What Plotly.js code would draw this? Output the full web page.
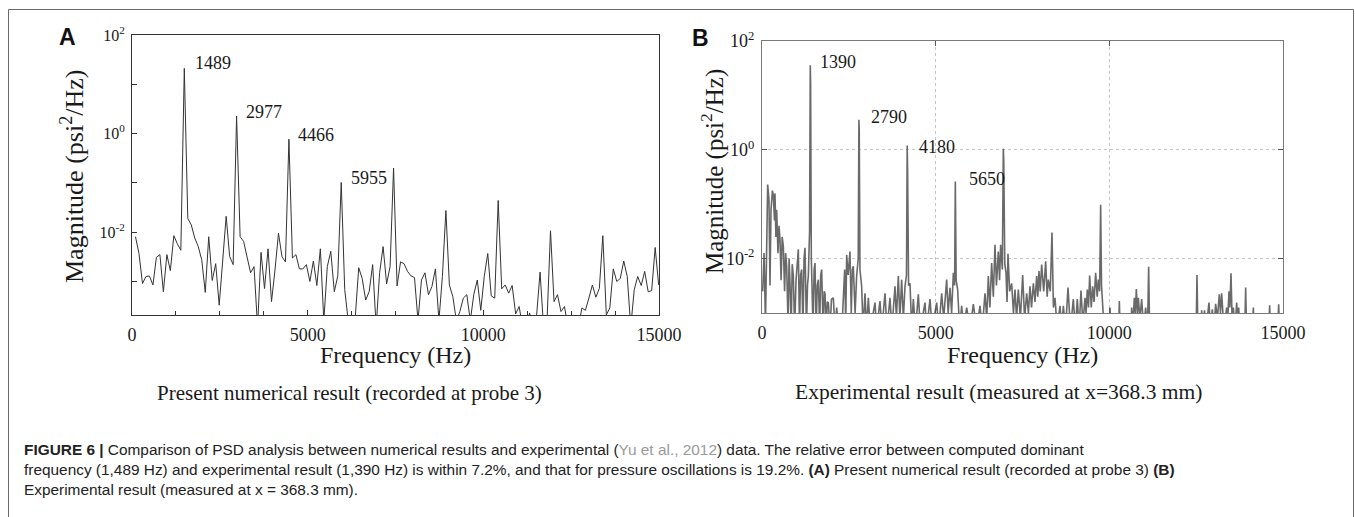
<!DOCTYPE html>
<html><head><meta charset="utf-8">
<script src="https://cdn.plot.ly/plotly-3.0.1.min.js"></script>
<style>html,body{margin:0;padding:0;background:#fff;overflow:hidden}#chart{width:1355px;height:517px}</style>
</head><body><div id="chart"></div>
<script>
// ---------- Panel A: numerical PSD (probe 3) ----------
const freqA = [99,199,298,397,496,596,695,794,893,993,1092,1191,1291,1390,1489,1588,1688,1787,1886,1985,
2085,2184,2283,2382,2482,2581,2680,2780,2879,2977,3077,3177,3276,3375,3474,3574,3673,3772,3872,3971,
4070,4169,4269,4368,4466,4566,4666,4765,4864,4964,5063,5162,5261,5361,5460,5559,5658,5758,5857,5955,
6055,6155,6254,6353,6453,6552,6651,6750,6850,6949,7048,7147,7247,7346,7445,7545,7644,7743,7842,7942,
8041,8140,8239,8339,8438,8537,8636,8736,8835,8934,9034,9133,9232,9331,9431,9530,9629,9728,9828,9927,
10026,10126,10225,10324,10423,10523,10622,10721,10820,10920,11019,11118,11218,11317,11416,11515,11615,11714,11813,11912,
12012,12111,12210,12309,12409,12508,12607,12707,12806,12905,13004,13104,13203,13302,13401,13501,13600,13699,13798,13898,
13997,14096,14196,14295,14394,14493,14593,14692,14791,14891,14990];
const magA = [8.1e-3,3.7e-3,9.1e-4,1.26e-3,1.29e-3,8.5e-4,3.1e-3,3.5e-3,6.2e-4,3.5e-3,1.66e-3,8.5e-3,5.8e-3,4.3e-3,21,1.9e-2,1.4e-2,7.6e-3,5.1e-3,2.75e-3,
6.0e-4,8.1e-3,1.05e-3,2.3e-3,3.3e-4,2.75e-3,2.1e-2,3.2e-3,2.2e-3,2.27,8.1e-3,6.5e-3,3.0e-3,1.5e-3,2.0e-3,1.2e-4,3.9e-3,7.2e-4,4.6e-3,3.9e-4,
1.7e-3,9.5e-3,3.2e-3,2.5e-3,0.77,3.0e-3,3.5e-3,1.8e-3,1.8e-3,2.2e-3,1.0e-3,2.6e-3,8.3e-4,4.6e-3,1.6e-4,2.0e-3,4.1e-3,6.2e-4,1.3e-3,0.102,
6.8e-4,1.6e-4,1.2e-4,1.8e-4,1.9e-3,1.15e-3,4.2e-4,6.2e-4,2.2e-3,1.2e-4,1.5e-3,5.1e-3,8.9e-4,2.0e-3,0.2,8.1e-4,2.5e-3,2.3e-3,1.6e-3,1.3e-3,
1.2e-3,1.6e-4,1.07e-3,1.5e-3,5.4e-4,7.9e-4,1.8e-3,1.6e-4,1.26e-3,2.75e-2,8.5e-4,4.9e-4,1.6e-4,2.45e-4,4.6e-4,5.4e-4,1.6e-4,5.4e-4,1.07e-3,2.6e-4,
1.26e-3,3.7e-3,5.1e-4,4.6e-4,4.4e-2,7.1e-4,8.5e-4,5.8e-4,8.3e-4,2.2e-4,3.1e-4,1.2e-4,1.2e-4,2.3e-4,1.2e-4,2.0e-4,1.55e-3,1.2e-4,1.6e-4,1.07e-2,
3.9e-4,5.4e-4,2.45e-4,3.1e-4,1.2e-4,2.0e-4,1.2e-4,1.2e-4,2.9e-4,2.6e-4,4.6e-4,8.5e-4,4.8e-4,7.2e-4,8.5e-3,2.1e-4,2.9e-4,1.8e-3,1.0e-3,1.15e-3,
2.6e-3,1.26e-3,1.2e-4,6.8e-4,1.26e-3,8.3e-4,1.6e-3,6.2e-4,6.5e-4,4.9e-3,8.5e-4];
const peakLabelsA = ['1489','2977','4466','5955'];

// ---------- Panel B: experimental PSD (x = 368.3 mm) ----------
const freqB = [20,60,100,140,163,200,230,260,300,326,360,374,400,422,460,490,518,550,580,614,
650,680,710,750,780,806,840,870,902,940,980,1046,1080,1110,1142,1180,1210,1238,1280,1310,
1334,1370,1390,1400,1420,1430,1470,1500,1526,1560,1590,1622,1660,1690,1718,1760,1790,1814,1850,1880,
1910,1960,2000,2054,2100,2150,2200,2300,2342,2380,2410,2438,2480,2533,2570,2600,2629,2680,2725,2770,
2790,2800,2820,2869,2910,2965,3010,3061,3120,3253,3300,3397,3450,3541,3600,3685,3740,3829,3870,3925,
3970,4021,4070,4117,4160,4180,4192,4220,4261,4310,4357,4420,4501,4560,4693,4740,4837,4900,5029,5090,
5173,5230,5317,5360,5413,5460,5509,5545,5566,5590,5633,5690,5749,5800,5893,5990,6084,6180,6276,6340,
6420,6470,6516,6560,6612,6660,6708,6750,6804,6840,6871,6920,6948,6960,6990,7025,7055,7082,7130,7188,
7240,7284,7330,7380,7440,7505,7560,7620,7670,7716,7760,7812,7860,7908,7940,7975,8010,8052,8110,8167,
8210,8244,8300,8349,8390,8435,8500,8580,8630,8676,8740,8810,8880,8963,9020,9078,9130,9184,9240,9299,
9330,9366,9400,9434,9480,9520,9560,9606,9650,9683,9720,9750,9775,9798,9850,10000,10019,10040,10270,10288,
10310,10620,10643,10680,10720,10750,10777,10810,10835,10880,10931,10990,11046,11100,11132,11160,12500,12524,12550,12640,
12658,12700,12740,12780,12870,12910,12965,13010,13061,13110,13167,13200,13234,13300,13378,13410,13445,13470,13503,13530,
13570,13620,13666,13700,13724,13760,13900,13925,13950,14120,14146,14170,14590,14616,14640,14850,14875,14900,15000];
const magB = [2.5e-3,1.26e-2,6.3e-4,6.3e-2,0.229,0.126,3.2e-3,7.9e-2,0.178,0.148,5.0e-2,0.158,2.5e-2,7.9e-2,1.26e-2,4.0e-2,2.24e-2,4.0e-3,2.5e-2,1.7e-2,
2.5e-3,1.26e-2,7.2e-3,6.3e-4,1.0e-2,3.5e-3,5e-4,7.9e-3,4.8e-3,5e-4,4.0e-3,1.48e-2,5e-4,5.0e-3,6.3e-3,5e-4,1.0e-2,1.58e-2,5e-4,3.2e-3,
4.8e-3,3.2e-2,36,15.5,1.0e-2,2.7e-3,5e-4,6.3e-3,8.3e-3,5e-4,3.2e-3,4.1e-3,5e-4,5.0e-3,6.3e-3,5e-4,2.5e-3,2.3e-3,5e-4,1.6e-3,
1.55e-3,5e-4,1.8e-3,1.9e-3,5e-4,1.26e-3,5e-4,5e-4,2.7e-3,6.3e-3,6.3e-4,1.17e-2,5.0e-3,1.35e-2,1.0e-3,6.3e-3,7.2e-3,1.0e-3,4.8e-3,1.0e-2,
3.55,2.2,6.3e-3,3.1e-3,5e-4,2.3e-3,5e-4,1.9e-3,5e-4,1.55e-3,5e-4,1.66e-3,5e-4,2.3e-3,5e-4,1.9e-3,5e-4,3.1e-3,7.9e-4,4.8e-3,
7.9e-4,4.1e-3,7.9e-4,3.1e-3,5.0e-3,1.2,0.43,3.2e-3,3.5e-3,5e-4,1.8e-3,5e-4,2.2e-3,5e-4,1.55e-3,5e-4,1.8e-3,5e-4,1.55e-3,5e-4,
2.3e-3,7.9e-4,4.1e-3,1.0e-3,2.9e-3,1.0e-3,5.5e-3,3.2e-3,0.26,4.0e-3,2.7e-3,5e-4,1.35e-3,5e-4,1.26e-3,5e-4,1.45e-3,5e-4,1.35e-3,5e-4,
2.3e-3,7.9e-4,4.8e-3,1.26e-3,8.3e-3,2.0e-3,1.8e-2,3.2e-3,1.35e-2,4.0e-3,1.8e-2,6.3e-3,1.05,0.63,7.9e-3,5.5e-3,1.6e-3,1.23e-2,2.5e-3,3.5e-3,
1.0e-3,2.7e-3,7.9e-4,2.7e-3,7.9e-4,5.0e-3,7.9e-4,2.3e-3,1.0e-3,3.1e-3,1.26e-3,3.5e-3,1.6e-3,4.8e-3,2.0e-3,5.9e-3,2.5e-3,7.8e-3,2.5e-3,8.9e-3,
2.0e-3,4.1e-3,2.5e-3,3.0e-2,1.26e-3,1.9e-3,5e-4,1.35e-3,5e-4,1.35e-3,5e-4,2.95e-3,5e-4,1.8e-3,5e-4,1.8e-3,5e-4,2.6e-3,6.3e-4,1.9e-3,
1.0e-3,2.7e-3,1.26e-3,4.9e-3,1.26e-3,3.1e-3,1.6e-3,5.5e-3,2.0e-3,4.1e-3,2.5e-3,9.8e-2,3.2e-3,2.0e-3,5e-4,5e-4,1.26e-3,5e-4,5e-4,1.66e-3,
5e-4,5e-4,1.26e-3,6.3e-4,1.9e-3,1.0e-3,2.75e-3,1.0e-3,1.9e-3,7.9e-4,1.8e-3,5e-4,1.26e-3,5e-4,7.1e-3,5e-4,5e-4,5.0e-3,5e-4,5e-4,
1.12e-3,5e-4,1.12e-3,5e-4,1.55e-3,5e-4,1.17e-3,5e-4,1.48e-3,7.9e-4,2.2e-3,1.0e-3,2.3e-3,5e-4,1.26e-3,7.9e-4,2.5e-3,1.26e-3,5.4e-3,1.0e-3,
1.26e-3,5e-4,1.55e-3,6.3e-4,1.26e-3,5e-4,5e-4,2.95e-3,5e-4,5e-4,1.26e-3,5e-4,5e-4,1.38e-3,5e-4,5e-4,1.45e-3,5e-4,5e-4];
const peakLabelsB = ['1390','2790','4180','5650'];

// ---------- Ticks and text ----------
const xTicks = [0,5000,10000,15000];
const xTickLabels = ['0','5000','10000','15000'];
const xMinorTicksA = [1250,2500,3750,6250,7500,8750,11250,12500,13750];
const yTicksA = [1e-2,1,100];
const yMinorTicksA = [1e-3,1e-1,10];
const yTickLabels = ['10<sup>-2</sup>','10<sup>0</sup>','10<sup>2</sup>'];
const xTitle = 'Frequency (Hz)';
const yTitle = 'Magnitude (psi<sup>2</sup>/Hz)';
const subtitleA = 'Present numerical result (recorded at probe 3)';
const subtitleB = 'Experimental result (measured at x=368.3 mm)';
const captionLines = [
 '<b>FIGURE 6 |</b> Comparison of PSD analysis between numerical results and experimental (<span style="color:#9a9a9a">Yu et al., 2012</span>) data. The relative error between computed dominant',
 'frequency (1,489 Hz) and experimental result (1,390 Hz) is within 7.2%, and that for pressure oscillations is 19.2%. <b>(A)</b> Present numerical result (recorded at probe 3) <b>(B)</b>',
 'Experimental result (measured at x = 368.3 mm).'
];

// ---------- Layout helpers (pixel -> paper) ----------
const W = 1355, H = 517;
const px = x => x / W;
const py = y => 1 - y / H;
const serif = 'Liberation Serif, Times New Roman, serif';
const sans = 'Liberation Sans, Arial, sans-serif';
const ink = '#1a1a1a';

const traces = [
  {x: freqA, y: magA, type: 'scatter', mode: 'lines', xaxis: 'x', yaxis: 'y',
   line: {color: '#333333', width: 1}, hoverinfo: 'skip'},
  {x: freqB, y: magB, type: 'scatter', mode: 'lines', xaxis: 'x2', yaxis: 'y2',
   line: {color: '#6a6a6a', width: 1.6}, hoverinfo: 'skip'}
];

const annA = [[193, 63], [244, 112], [296, 135], [349, 178]];
const annB = [[818, 62], [869, 117], [917, 147], [967, 179]];
const annotations = [];
peakLabelsA.forEach((t, i) => annotations.push({text: t, xref: 'paper', yref: 'paper', x: px(annA[i][0]), y: py(annA[i][1]),
  xanchor: 'left', yanchor: 'middle', showarrow: false, font: {family: serif, size: 18, color: ink}}));
peakLabelsB.forEach((t, i) => annotations.push({text: t, xref: 'paper', yref: 'paper', x: px(annB[i][0]), y: py(annB[i][1]),
  xanchor: 'left', yanchor: 'middle', showarrow: false, font: {family: serif, size: 18, color: ink}}));
// panel letters
annotations.push({text: '<b>A</b>', xref: 'paper', yref: 'paper', x: px(67), y: py(37), xanchor: 'center', yanchor: 'middle', showarrow: false, font: {family: sans, size: 23, color: '#111'}});
annotations.push({text: '<b>B</b>', xref: 'paper', yref: 'paper', x: px(700), y: py(38), xanchor: 'center', yanchor: 'middle', showarrow: false, font: {family: sans, size: 23, color: '#111'}});
// axis titles
annotations.push({text: yTitle, xref: 'paper', yref: 'paper', x: px(72), y: py(177), textangle: -90, xanchor: 'center', yanchor: 'middle', showarrow: false, font: {family: serif, size: 26, color: ink}});
annotations.push({text: yTitle, xref: 'paper', yref: 'paper', x: px(712), y: py(172), textangle: -90, xanchor: 'center', yanchor: 'middle', showarrow: false, font: {family: serif, size: 25, color: ink}});
annotations.push({text: xTitle, xref: 'paper', yref: 'paper', x: px(395), y: py(355), xanchor: 'center', yanchor: 'middle', showarrow: false, font: {family: serif, size: 24, color: ink}});
annotations.push({text: xTitle, xref: 'paper', yref: 'paper', x: px(1022), y: py(355), xanchor: 'center', yanchor: 'middle', showarrow: false, font: {family: serif, size: 24, color: ink}});
// subtitles
annotations.push({text: subtitleA, xref: 'paper', yref: 'paper', x: px(349), y: py(393), xanchor: 'center', yanchor: 'middle', showarrow: false, font: {family: serif, size: 21, color: ink}});
annotations.push({text: subtitleB, xref: 'paper', yref: 'paper', x: px(998), y: py(392), xanchor: 'center', yanchor: 'middle', showarrow: false, font: {family: serif, size: 21.5, color: ink}});
// caption
const capY = [449, 469, 489];
captionLines.forEach((t, i) => annotations.push({text: t, xref: 'paper', yref: 'paper', x: px(22), y: py(capY[i]), xanchor: 'left', yanchor: 'middle', showarrow: false, font: {family: sans, size: 15.4, color: '#222'}}));

const axA = {showline: true, linecolor: '#333', linewidth: 1, mirror: true, ticks: 'inside', ticklen: 5, tickcolor: '#333', zeroline: false, showgrid: false};
const axB = {showline: true, linecolor: '#7a7a7a', linewidth: 1, mirror: 'ticks', ticks: 'inside', ticklen: 5, tickcolor: '#555', zeroline: false,
  showgrid: true, gridcolor: '#c4c4c4', griddash: 'dot', gridwidth: 1};

const layout = {
  width: W, height: H, margin: {l: 0, r: 0, t: 0, b: 0}, paper_bgcolor: '#fff', plot_bgcolor: '#fff', showlegend: false,
  xaxis: Object.assign({}, axA, {domain: [px(132), px(659)], range: [0, 15000], anchor: 'y', tickmode: 'array', tickvals: xTicks, ticktext: xTickLabels,
    minor: {tickmode: 'array', tickvals: xMinorTicksA, ticks: 'inside', ticklen: 4, tickcolor: '#333', showgrid: false},
    tickfont: {family: serif, size: 18, color: ink}, ticklabelstandoff: 3}),
  yaxis: Object.assign({}, axA, {domain: [py(315), py(35)], type: 'log', range: [-3.68, 2], anchor: 'x', tickmode: 'array', tickvals: yTicksA, ticktext: yTickLabels,
    minor: {tickmode: 'array', tickvals: yMinorTicksA, ticks: 'inside', ticklen: 5, tickcolor: '#333', showgrid: false},
    tickfont: {family: serif, size: 16, color: ink}, ticklabelstandoff: 3}),
  xaxis2: Object.assign({}, axB, {domain: [px(762), px(1283)], range: [0, 15000], anchor: 'y2', tickmode: 'array', tickvals: xTicks, ticktext: xTickLabels,
    tickfont: {family: serif, size: 18, color: ink}, ticklabelstandoff: 3}),
  yaxis2: Object.assign({}, axB, {domain: [py(313), py(41)], type: 'log', range: [-3, 2], anchor: 'x2', tickmode: 'array', tickvals: yTicksA, ticktext: yTickLabels,
    tickfont: {family: serif, size: 18, color: ink}, ticklabelstandoff: 3}),
  annotations: annotations,
  shapes: [{type: 'rect', xref: 'paper', yref: 'paper', x0: px(8.5), x1: px(1353.5), y0: py(530), y1: py(9.5), line: {color: '#6a6a6a', width: 1}, fillcolor: 'rgba(0,0,0,0)'}]
};

Plotly.newPlot('chart', traces, layout, {staticPlot: true, displayModeBar: false});
</script>
</body></html>
